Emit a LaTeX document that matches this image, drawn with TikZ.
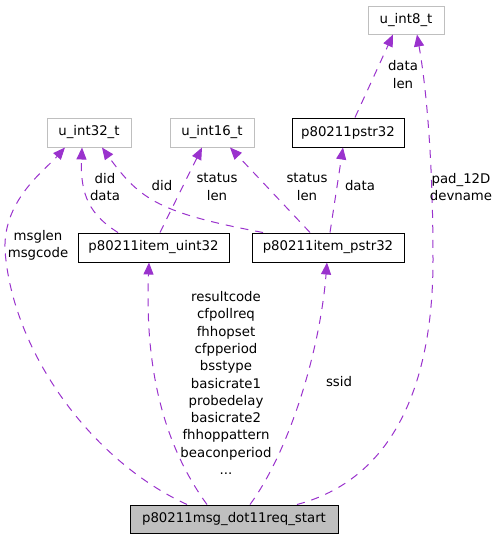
\documentclass[tikz,border=0pt]{standalone}
\usepackage{fontspec}
\setmainfont{DejaVu Sans}
\usetikzlibrary{arrows.meta}
\definecolor{edgepurple}{HTML}{9A32CD}
\definecolor{lightgray}{HTML}{BFBFBF}
\tikzset{
  box/.style={draw=black, line width=1pt, inner sep=0pt, minimum height=29pt, font=\fontsize{13.3}{17.3}\selectfont},
  graybox/.style={box, draw=lightgray},
  dep/.style={draw=edgepurple, line width=1pt, dash pattern=on 8pt off 7pt, -{Triangle[length=12pt,width=10pt,fill=edgepurple]}},
  lbl/.style={align=center, inner sep=0pt, font=\fontsize{13.3}{17.3}\selectfont}
}
\begin{document}
\begin{tikzpicture}[x=1pt, y=-1pt]
\useasboundingbox (0,0) rectangle (497,539);
% nodes
\node[graybox, minimum width=76pt, minimum height=28pt] (u8) at (406,20) {u\_int8\_t};
\node[graybox, minimum width=84pt] (u32) at (89,132.5) {u\_int32\_t};
\node[graybox, minimum width=84pt] (u16) at (212,132.5) {u\_int16\_t};
\node[box, minimum width=112pt] (pstr) at (348,132.5) {p80211pstr32};
\node[box, minimum width=151pt] (iu32) at (153.5,247.5) {p80211item\_uint32};
\node[box, minimum width=152pt] (ipstr) at (328,247.5) {p80211item\_pstr32};
\node[box, fill=lightgray, minimum width=208pt, minimum height=28pt] (msg) at (234,519) {p80211msg\_dot11req\_start};
% edges
\draw[dep] ([xshift=-47pt]msg.north) .. controls (90,460) and (12,350) .. (5,250)
  .. controls (3,200) and (45,170) .. ([xshift=-24pt]u32.south);
\draw[dep] ([xshift=-27pt]msg.north) .. controls (160,440) and (145,360) .. ([xshift=-4.5pt]iu32.south);
\draw[dep] ([xshift=16pt]msg.north) .. controls (290,450) and (320,350) .. ([xshift=-1pt]ipstr.south);
\draw[dep] ([xshift=63pt]msg.north) .. controls (390,480) and (433,390) .. (433,260)
  .. controls (433,150) and (425,80) .. ([xshift=11pt]u8.south);
\draw[dep] ([xshift=-35.5pt]iu32.north) .. controls (90,215) and (80,195) .. ([xshift=-7pt]u32.south);
\draw[dep] ([xshift=6.5pt]iu32.north) -- ([xshift=-10pt]u16.south);
\draw[dep] ([xshift=-65pt]ipstr.north) .. controls (160,213) and (140,200) .. ([xshift=13pt]u32.south);
\draw[dep] ([xshift=-18pt]ipstr.north) -- ([xshift=18pt]u16.south);
\draw[dep] ([xshift=2pt]ipstr.north) -- ([xshift=-5pt]pstr.south);
\draw[dep] ([xshift=7pt]pstr.north) -- ([xshift=-13pt]u8.south);
% labels
\node[lbl] (l1) at (403,74.5) {data\\len};
\node[lbl] (l2) at (38,245.5) {msglen\\msgcode};
\node[lbl] (l3) at (105,187) {did\\data};
\node[lbl] (l4) at (162,186) {did};
\node[lbl] (l5) at (217,187) {status\\len};
\node[lbl] (l6) at (307,187) {status\\len};
\node[lbl] (l7) at (360,186) {data};
\node[lbl] (l8) at (461,187) {pad\_12D\\devname};
\node[lbl] (l9) at (226,383) {resultcode\\cfpollreq\\fhhopset\\cfpperiod\\bsstype\\basicrate1\\probedelay\\basicrate2\\fhhoppattern\\beaconperiod\\...};
\node[lbl] (l10) at (339,382) {ssid};
\end{tikzpicture}
\end{document}
